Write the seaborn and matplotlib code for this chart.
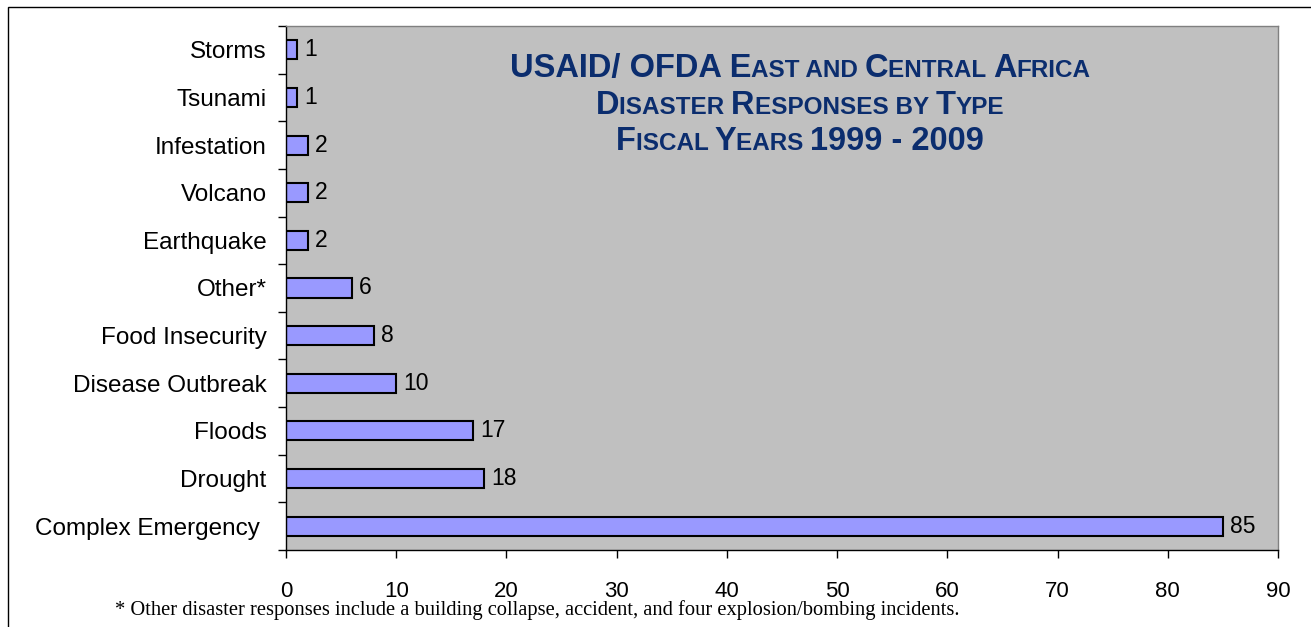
import matplotlib
matplotlib.use("Agg")
import matplotlib.pyplot as plt
import matplotlib.patches as mpatches
import numpy as np
import pandas as pd
import seaborn as sns

# Data (top to bottom as shown)
categories = ["Storms", "Tsunami", "Infestation", "Volcano", "Earthquake", "Other*",
              "Food Insecurity", "Disease Outbreak", "Floods", "Drought", "Complex Emergency "]
responses = [1, 1, 2, 2, 2, 6, 8, 10, 17, 18, 85]
x_ticks = [0, 10, 20, 30, 40, 50, 60, 70, 80, 90]

title_lines = [
    [("USAID/ OFDA E", "big"), ("AST AND ", "small"), ("C", "big"), ("ENTRAL ", "small"),
     ("A", "big"), ("FRICA", "small")],
    [("D", "big"), ("ISASTER ", "small"), ("R", "big"), ("ESPONSES BY ", "small"),
     ("T", "big"), ("YPE", "small")],
    [("F", "big"), ("ISCAL ", "small"), ("Y", "big"), ("EARS ", "small"), ("1999 - 2009", "big")],
]
footnote = "* Other disaster responses include a building collapse, accident, and four explosion/bombing incidents."

df = pd.DataFrame({"category": categories, "count": responses})

sns.set_style("white")
plt.rcParams["font.family"] = ["Liberation Sans", "DejaVu Sans"]
plt.rcParams["text.color"] = "black"
plt.rcParams["xtick.color"] = "black"
plt.rcParams["ytick.color"] = "black"

W, H = 1311, 627
fig = plt.figure(figsize=(W / 100, H / 100), dpi=100)
ax = fig.add_axes([286 / W, 1 - 550 / H, (1278 - 286) / W, (550 - 26) / H])

sns.barplot(data=df, x="count", y="category", order=categories, ax=ax,
            color="#9999FF", saturation=1, width=0.4, edgecolor="black", linewidth=1.5)
ax.set_facecolor("#C0C0C0")
ax.set_xlim(0, 90)
ax.set_ylim(len(categories) - 0.5, -0.5)
ax.set_xticks(x_ticks)
ax.set_xlabel("")
ax.set_ylabel("")

for c in ax.containers:
    ax.bar_label(c, padding=5, fontsize=16.5, color="black")

# ticks
ax.tick_params(axis="x", direction="out", length=6, width=1, labelsize=16, pad=16,
               colors="black", labelcolor="black")
ax.tick_params(axis="y", which="major", length=0, labelsize=17.5, pad=14, labelcolor="black")
ax.set_yticks(np.arange(-0.5, len(categories), 1), minor=True)
ax.tick_params(axis="y", which="minor", direction="out", length=6, width=1, colors="black")
ax.xaxis.set_ticks_position("bottom")
ax.yaxis.set_ticks_position("left")

for side in ["left", "bottom"]:
    ax.spines[side].set_color("black")
    ax.spines[side].set_linewidth(1)
for side in ["top", "right"]:
    ax.spines[side].set_color("#808080")
    ax.spines[side].set_linewidth(1)

# outer border
fig.add_artist(mpatches.Rectangle((8 / W, -0.05), 1.2, (H - 7) / H + 0.05,
                                  transform=fig.transFigure, fill=False,
                                  edgecolor="black", linewidth=1))

# small-caps style title
navy = "#0B2D6E"
sizes = {"big": 23.5, "small": 17.5}
title_font = ["Liberation Sans Narrow", "Liberation Sans", "DejaVu Sans"]
baselines = [77, 114, 150]
center_x = 800
renderer = fig.canvas.get_renderer()
for line, base in zip(title_lines, baselines):
    texts = []
    widths = []
    for s, kind in line:
        t = fig.text(0, 1 - base / H, s, fontsize=sizes[kind], fontweight="bold",
                     color=navy, family=title_font, va="baseline", ha="left")
        widths.append(t.get_window_extent(renderer).width)
        texts.append(t)
    x = center_x - sum(widths) / 2
    for t, w in zip(texts, widths):
        t.set_x(x / W)
        x += w

fig.text(115 / W, 1 - 615 / H, footnote, fontsize=14.8,
         family=["Liberation Serif", "DejaVu Serif"], va="baseline", ha="left")

fig.savefig("out.png", dpi=100)
